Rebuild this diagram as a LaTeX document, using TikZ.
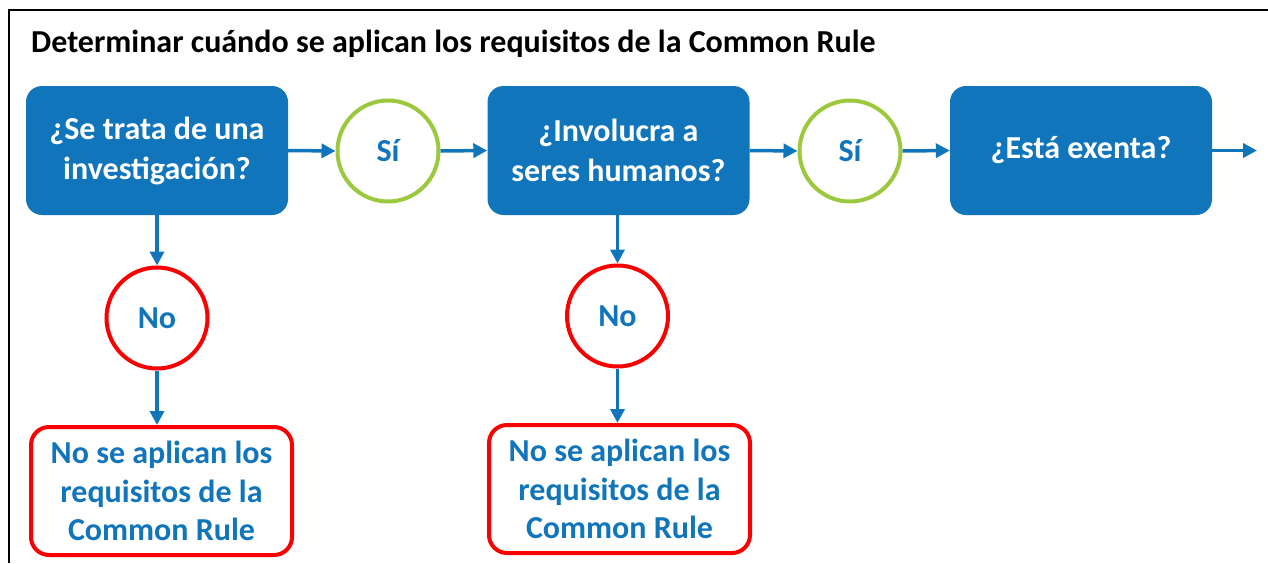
\documentclass[tikz,border=0pt]{standalone}
\usepackage{fontspec}
\setmainfont{Carlito}
\usetikzlibrary{arrows.meta}
\definecolor{cblue}{RGB}{17,117,188}
\definecolor{cgreen}{RGB}{155,200,60}
\definecolor{cred}{RGB}{250,0,0}
\tikzset{
  qbox/.style={fill=cblue, draw=none, rounded corners=16pt, text=white, font=\fontsize{32}{40}\selectfont\bfseries, align=center, minimum width=262pt, minimum height=129pt, inner sep=0pt},
  yescirc/.style={circle, draw=cgreen, line width=4pt, fill=white, text=cblue, font=\fontsize{32}{38}\selectfont\bfseries, minimum size=101pt, inner sep=0pt},
  nocirc/.style={circle, draw=cred, line width=4pt, fill=white, text=cblue, font=\fontsize{32}{38}\selectfont\bfseries, minimum size=101pt, inner sep=0pt},
  resbox/.style={draw=cred, line width=4pt, rounded corners=18pt, fill=white, text=cblue, font=\fontsize{32}{38.5}\selectfont\bfseries, align=center, minimum width=261pt, minimum height=128pt, inner sep=0pt},
  conn/.style={draw=cblue, line width=3.5pt, -{Triangle[length=14pt,width=14pt]}},
  frameline/.style={draw=black, line width=2pt}
}
\begin{document}
\begin{tikzpicture}[x=1pt,y=-1pt]
\useasboundingbox (0,0) rectangle (1268,563);
% frame
\coordinate (ftl) at (9,10);
\coordinate (ftr) at (1268,10);
\coordinate (fbl) at (9,563);
\draw[frameline] (ftr) -- (ftl) -- (fbl);
% title
\node[anchor=base west, inner sep=0pt, font=\fontsize{32}{38}\selectfont\bfseries] (title) at (31,52) {Determinar cuándo se aplican los requisitos de la Common Rule};
% question boxes
\node[qbox] (q1) at (157,150.5) {¿Se trata de una\\investigación?};
\node[qbox] (q2) at (618.5,150.5) {¿Involucra a\\seres humanos?};
\node[qbox] (q3) at (1081,150.5) {¿Está exenta?};
% yes circles
\node[yescirc] (s1) at (388,151) {Sí};
\node[yescirc] (s2) at (850,151) {Sí};
% no circles
\node[nocirc] (n1) at (157,318) {No};
\node[nocirc] (n2) at (617.5,316) {No};
% result boxes
\node[resbox] (r1) at (161.5,491) {No se aplican los\\requisitos de la\\Common Rule};
\node[resbox] (r2) at (619.5,489) {No se aplican los\\requisitos de la\\Common Rule};
\coordinate (out) at (1257,150.5);
% connectors
\draw[conn] (q1.east) -- (s1.west);
\draw[conn] (s1.east) -- (q2.west);
\draw[conn] (q2.east) -- (s2.west);
\draw[conn] (s2.east) -- (q3.west);
\draw[conn] (q3.east) -- (out);
\draw[conn] (q1.south) -- (n1.north);
\draw[conn] (n1.south) -- (n1.south |- r1.north);
\draw[conn] (q2.south -| n2.north) -- (n2.north);
\draw[conn] (n2.south) -- (n2.south |- r2.north);
\end{tikzpicture}
\end{document}
